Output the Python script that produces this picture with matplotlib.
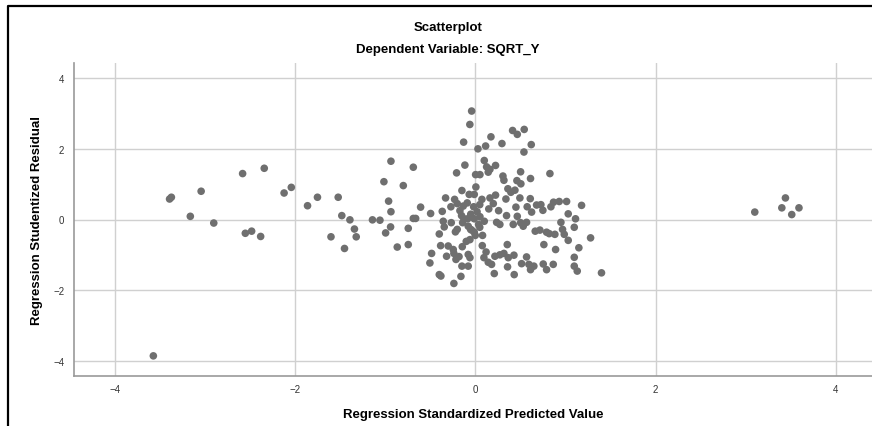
import matplotlib
matplotlib.use("Agg")
import matplotlib.pyplot as plt
from matplotlib.lines import Line2D

plt.rcParams['font.family'] = ['Liberation Sans', 'DejaVu Sans']

TITLE = "Scatterplot"
SUBTITLE = "Dependent Variable: SQRT_Y"
XLABEL = "Regression Standardized Predicted Value"
YLABEL = "Regression Studentized Residual"
TICKS = [-4, -2, 0, 2, 4]

# standardized predicted value
pred = [
    0.174, 0.414, 0.466, 0.543, -0.129, 0.115, 0.030, 0.296, 0.621, 0.540,
    -0.935, -0.687, 0.100, -0.115, 0.126, 0.225, 0.163, 0.144, -0.207, 0.004,
    0.052, 0.503, 0.828, 0.307, 0.318, 0.613, 0.462, 0.506, -1.013, -0.798,
    0.362, 0.395, 0.440, 0.007, -0.148, -0.067, 0.163, 0.225, 0.074, -0.329,
    -0.229, -0.200, -0.270, -0.133, -0.089, -0.011, -0.018, 0.340, 0.495, 0.610,
    0.680, 0.728, 0.868, 0.931, 1.013, 1.179, 0.839, -0.961, -0.935, -0.606,
    -0.366, -0.495, 0.259, 0.347, 0.451, 0.576, 0.625, 0.750, 1.031, 1.112,
    0.950, -0.687, -0.661, -1.057, -0.939, -0.994, -0.743, -0.399, -0.355, -0.344,
    -0.266, -0.152, -0.126, -0.085, -0.011, 0.052, 0.037, -0.078, -0.140, -0.200,
    -0.052, -0.011, 0.081, -0.059, 0.237, 0.273, 0.421, 0.503, 0.569, 0.466,
    0.532, 0.665, 0.717, 0.791, 0.820, 0.883, 0.968, 0.987, 1.031, 1.098,
    1.279, -0.865, -0.743, -0.384, -0.484, -0.503, -0.318, -0.244, -0.237, -0.214,
    -0.144, -0.078, -0.059, -0.148, -0.078, -0.399, -0.381, -0.159, -0.237, 0.078,
    0.096, 0.144, 0.181, 0.211, 0.218, 0.273, 0.318, 0.366, 0.429, 0.569,
    0.358, 0.432, 0.514, 0.595, 0.613, 0.650, 0.754, 0.865, 0.791, 0.355,
    0.761, 0.891, 1.149, 1.098, 1.098, 1.131, 1.400,
    -0.05, 0.02, -0.17, 0.10, 0.15, -0.22, 0.00, -0.10, 0.05, 0.20,
    -0.30, -0.18, 0.12, 0.05, -0.04,
    -0.04, -0.06,
    -3.57, -3.39, -3.37, -3.16, -3.04, -2.90, -2.58, -2.55, -2.48, -2.38,
    -2.34, -2.12, -2.04, -1.86, -1.75, -1.52, -1.48, -1.39, -1.14, -1.60,
    -1.34, -1.32, -1.45,
    3.10, 3.44, 3.40, 3.59, 3.51,
]

# studentized residual
resid = [
    2.34, 2.52, 2.41, 2.55, 2.19, 2.08, 2.00, 2.15, 2.12, 1.91,
    1.65, 1.48, 1.67, 1.54, 1.49, 1.53, 1.42, 1.34, 1.32, 1.27,
    1.27, 1.35, 1.30, 1.23, 1.11, 1.16, 1.10, 1.01, 1.07, 0.96,
    0.87, 0.77, 0.83, 0.92, 0.82, 0.71, 0.61, 0.69, 0.57, 0.61,
    0.57, 0.45, 0.36, 0.38, 0.47, 0.71, 0.36, 0.58, 0.61, 0.59,
    0.41, 0.42, 0.49, 0.51, 0.51, 0.40, 0.36, 0.52, 0.22, 0.35,
    0.23, 0.17, 0.25, 0.11, 0.35, 0.36, 0.21, 0.26, 0.16, 0.02,
    -0.08, 0.03, 0.03, -0.02, -0.21, -0.38, -0.25, -0.41, -0.05, -0.21,
    -0.09, 0.11, 0.02, 0.02, 0.02, 0.08, -0.14, -0.19, -0.09, -0.28,
    -0.28, -0.36, -0.45, -0.57, -0.08, -0.14, -0.14, -0.09, -0.08, 0.09,
    -0.19, -0.33, -0.30, -0.36, -0.40, -0.42, -0.28, -0.42, -0.59, -0.22,
    -0.52, -0.78, -0.71, -0.74, -0.96, -1.23, -1.04, -0.85, -0.96, -1.13,
    -0.77, -0.99, -1.08, -1.32, -1.32, -1.56, -1.60, -1.61, -1.81, -0.74,
    -1.08, -1.21, -1.27, -1.53, -1.04, -1.00, -0.96, -1.08, -1.01, -1.06,
    -1.34, -1.56, -1.25, -1.27, -1.42, -1.32, -1.26, -1.27, -1.42, -0.71,
    -0.71, -0.85, -0.80, -1.07, -1.32, -1.46, -1.51,
    0.15, 0.22, 0.25, -0.05, 0.30, -0.35, -0.45, -0.62, -0.22, 0.45,
    -0.75, -1.05, -0.92, 0.42, -0.30,
    3.07, 2.69,
    -3.86, 0.58, 0.63, 0.09, 0.80, -0.10, 1.30, -0.39, -0.33, -0.48,
    1.45, 0.75, 0.91, 0.39, 0.63, 0.63, 0.11, -0.01, -0.01, -0.49,
    -0.27, -0.49, -0.82,
    0.21, 0.61, 0.33, 0.33, 0.14,
]


def main():
    fig = plt.figure(figsize=(8.72, 4.27), dpi=100)
    ax = fig.add_axes([74 / 872, 1 - 377 / 427, 1 - 74 / 872, (377 - 64) / 427])

    ax.scatter(pred, resid, s=30, color='#6f6f6f', edgecolors='none', zorder=3)

    ax.set_xlim(-4.45, 4.40)
    ax.set_ylim(-4.43, 4.43)
    ax.set_xticks(TICKS)
    ax.set_yticks(TICKS)
    ax.grid(True, color='#d0d0d0', linewidth=1.0)
    ax.set_axisbelow(True)
    for side in ['top', 'right']:
        ax.spines[side].set_visible(False)
    for side in ['left', 'bottom']:
        ax.spines[side].set_color('#999999')
        ax.spines[side].set_linewidth(1.2)
    ax.tick_params(length=0, labelsize=7, colors='#333333')
    ax.tick_params(axis='x', pad=6)
    ax.tick_params(axis='y', pad=7)

    ax.set_xlabel(XLABEL, fontsize=9.5, fontweight='bold', labelpad=10)
    ax.set_ylabel(YLABEL, fontsize=9.5, fontweight='bold', labelpad=7)

    fig.text(448 / 872, 1 - 28 / 427, TITLE, ha='center', va='center',
             fontsize=9.5, fontweight='bold')
    fig.text(448 / 872, 1 - 50 / 427, SUBTITLE, ha='center', va='center',
             fontsize=9.5, fontweight='bold')

    # outer frame (cropped at right and bottom)
    x0 = 8 / 872
    y0 = 1 - 7 / 427
    fig.add_artist(Line2D([x0, x0, 1.0], [0.0, y0, y0], color='black',
                          linewidth=1.6, transform=fig.transFigure))

    fig.savefig('out.png', dpi=100)


if __name__ == '__main__':
    main()
